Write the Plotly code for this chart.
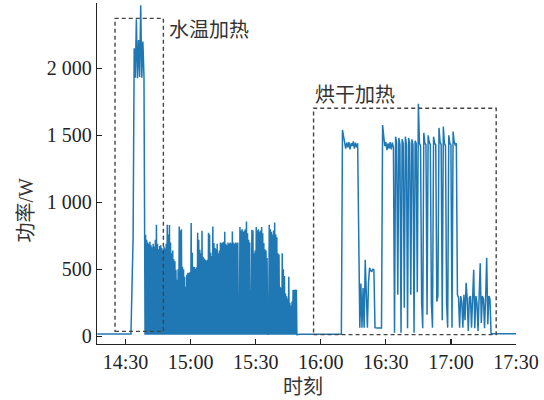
import pandas as pd
import plotly.graph_objects as go

# ---- data (power in W) ----
# part 1: sampled every 30 s from 14:17:00
pre_idle = [18] * 32
water_block = [380, 740, 2150, 1930, 2365, 1925, 2210, 1935, 2470, 1930, 2200, 1940]
# part 2: fast on/off cycling, sampled every 15 s from 14:39:00 (low, peak, low, peak ...)
dense_peaks = [758, 720, 700, 690, 705, 680, 665, 690, 670, 720,
               832, 690, 650, 675, 680, 660, 640, 670, 655, 690,
               832, 760, 830, 700, 620, 640, 575, 560, 497, 423,
               500, 820, 790, 800, 520, 500, 444, 370, 460, 474,
               470, 480, 845, 623, 520, 518, 505, 515, 773, 720,
               646, 620, 788, 594, 580, 571, 565, 571, 773, 760,
               623, 600, 820, 697, 660, 650, 690, 620, 640, 700,
               695, 700, 705, 780, 690, 680, 700, 690, 700, 695,
               782, 700, 690, 700, 695, 700, 300, 815, 790, 800,
               780, 790, 800, 857, 770, 720, 700, 350, 795, 790,
               620, 640, 815, 790, 800, 780, 790, 815, 770, 697,
               650, 640, 585, 20, 832, 800, 780, 760, 790, 850,
               760, 740, 620, 610, 370, 360, 620, 500, 450, 320,
               300, 280, 444, 250, 230, 260, 348, 345, 350, 348]
dense_lows = [12] * 141
# part 3: sampled every 30 s from 15:49:30
mid_idle = [15] * 41
dry_block1 = [1540, 1480, 1450, 1400, 1445, 1410, 1450, 1395, 1440, 1420, 1455, 1400, 1445, 1410, 1440]
dry_mid = [420, 65, 395, 65, 360, 65, 571, 380, 65, 400, 511, 490, 485, 500, 495, 65]
dry_gap = [62] * 6
dry_block2 = [1577, 1470, 1420, 1450, 1390, 1440, 1400, 1450, 1395, 1445, 1410]
dry_pulses = [27, 1490, 1440, 310, 1480, 1430, 27, 1470, 1440, 214,
              1490, 1430, 60, 1480, 1440, 310, 1470, 1430, 27, 1460,
              1440, 330, 1735, 1440, 1420, 261, 60, 1518, 1440, 1430,
              162, 1500, 1450, 1430, 250, 65, 1490, 1440, 1430, 260,
              300, 1555, 1450, 1430, 120, 1565, 1440, 1420, 250, 65,
              1500, 1440, 1430, 65, 1528, 1450, 1430, 1440, 311]
dry_tail = [290, 65, 300, 260, 65, 310, 120, 400, 280, 40, 290, 300, 65, 280, 497, 60,
            300, 250, 40, 290, 546, 100, 300, 280, 60, 290, 586, 90, 300, 280, 20]
end_idle = [20] * 23

tick_times = ["14:30", "15:00", "15:30", "16:00", "16:30", "17:00", "17:30"]
y_ticks = [0, 500, 1000, 1500, 2000]
y_ticktext = ["0", "500", "1 000", "1 500", "2 000"]

day = "2024-01-01 "

part1 = pre_idle + water_block
part2 = []
for k in range(len(dense_peaks)):
    part2 += [dense_lows[k], dense_peaks[k]]
part2.append(dense_lows[-1])
part3 = (mid_idle + dry_block1 + dry_mid + dry_gap + dry_block2
         + dry_pulses + dry_tail + end_idle)

t1 = pd.date_range(day + "14:17:00", periods=len(part1), freq="30s")
t2 = pd.date_range(day + "14:39:00", periods=len(part2), freq="15s")
t3 = pd.date_range(day + "15:49:30", periods=len(part3), freq="30s")
times = list(t1) + list(t2) + list(t3)
power = part1 + part2 + part3

serif = "'Times New Roman', 'Liberation Serif', serif"
mixed = "'Times New Roman', 'Liberation Serif', 'Noto Sans CJK SC', serif"
cjk = "'Noto Sans CJK SC', sans-serif"

fig = go.Figure()
fig.add_trace(go.Scatter(x=times, y=power, mode="lines",
                         line=dict(color="#1f77b4", width=1.5), hoverinfo="skip"))

box_style = dict(type="rect", xref="x", yref="y",
                 line=dict(color="#444444", width=1.4, dash="4px,3px"))
fig.add_shape(x0=day + "14:25:09", x1=day + "14:47:27", y0=37, y1=2372, **box_style)
fig.add_shape(x0=day + "15:56:41", x1=day + "17:20:52", y0=13, y1=1702, **box_style)

fig.add_annotation(x=day + "14:49:09", y=2300, text="水温加热", showarrow=False,
                   xanchor="left", yanchor="middle", font=dict(family=cjk, size=20, color="#333333"))
fig.add_annotation(x=day + "15:56:30", y=1814, text="烘干加热", showarrow=False,
                   xanchor="left", yanchor="middle", font=dict(family=cjk, size=20, color="#333333"))

fig.add_annotation(xref="paper", yref="paper", x=0.492, y=-0.122, text="时刻", showarrow=False,
                   xanchor="center", yanchor="middle", font=dict(family=cjk, size=20, color="#333333"))
fig.add_annotation(xref="paper", yref="paper", x=-0.17, y=0.3935, text="功率/W", showarrow=False,
                   textangle=-90, xanchor="center", yanchor="middle",
                   font=dict(family=mixed, size=20, color="#333333"))

fig.update_layout(
    width=544, height=400,
    margin=dict(l=97, r=28, t=3, b=56, autoexpand=False),
    paper_bgcolor="white", plot_bgcolor="white",
    showlegend=False,
)
fig.update_xaxes(
    type="date", range=[day + "14:16:51", day + "17:30:00"], automargin=False,
    tickvals=[day + t + ":00" for t in tick_times], ticktext=tick_times,
    ticks="inside", ticklen=5, tickwidth=1.2, tickcolor="#222222",
    showline=True, linecolor="#222222", linewidth=1.3,
    showgrid=False, zeroline=False,
    tickfont=dict(family=serif, size=20, color="#222222"),
)
fig.update_yaxes(
    range=[-57, 2487], automargin=False,
    tickvals=y_ticks, ticktext=y_ticktext,
    ticks="inside", ticklen=5, tickwidth=1.2, tickcolor="#222222",
    showline=True, linecolor="#222222", linewidth=1.3,
    showgrid=False, zeroline=False,
    tickfont=dict(family=serif, size=20, color="#222222"),
)

fig.write_html("out.html", config={"displayModeBar": False, "staticPlot": True},
               post_script="document.body.style.margin='0';document.body.style.overflow='hidden';")
